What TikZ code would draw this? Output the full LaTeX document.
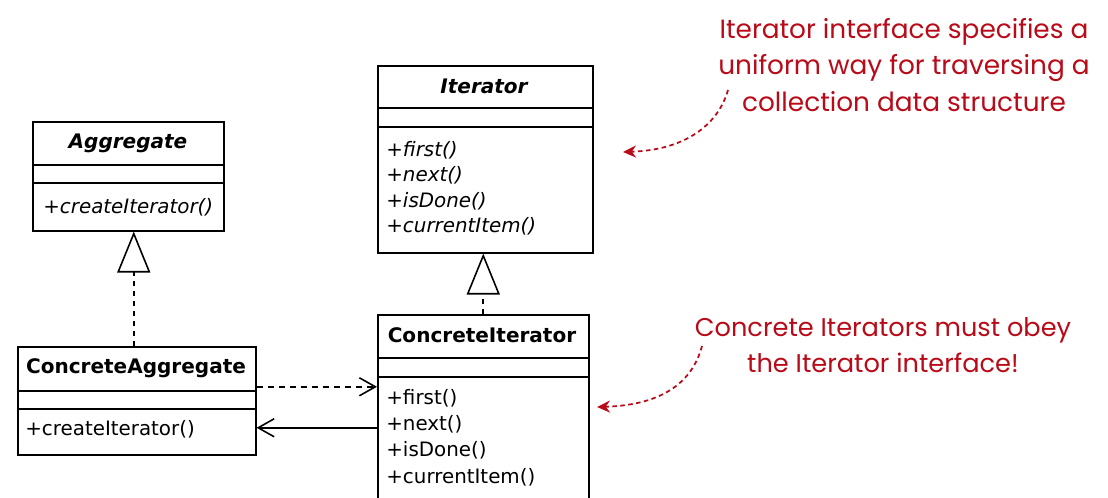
\documentclass[tikz,border=0pt]{standalone}
\usepackage{fontspec}
\setmainfont{DejaVu Sans}
\newfontfamily\notefont{Poppins}
\usetikzlibrary{arrows.meta,calc}

\definecolor{notered}{RGB}{185,10,24}

% class box dividers: name compartment and attribute compartment
\newcommand{\classrules}[3]{%
  \draw[umlline] ($(#1.north west)+(0,#2)$) -- ($(#1.north east)+(0,#2)$);
  \draw[umlline] ($(#1.north west)+(0,#3)$) -- ($(#1.north east)+(0,#3)$);}

\tikzset{
  umlline/.style={line width=0.9pt},
  classbox/.style={draw,umlline,anchor=north west,inner sep=0pt},
  clsname/.style={font=\fontsize{11.4}{13}\selectfont\bfseries,inner sep=0pt},
  absname/.style={clsname,font=\fontsize{11.4}{13}\selectfont\bfseries\itshape},
  op/.style={font=\fontsize{11.3}{13}\selectfont,anchor=west,inner sep=0pt},
  absop/.style={op,font=\fontsize{11.3}{13}\selectfont\itshape},
  realize/.style={umlline,dash pattern=on 0.1cm off 0.1cm,
    -{Triangle[open,length=0.82cm,width=0.66cm,fill=white]}},
  depend/.style={umlline,dash pattern=on 0.12cm off 0.1cm,
    -{Straight Barb[length=0.32cm,width=0.36cm]}},
  assoc/.style={umlline,-{Straight Barb[length=0.32cm,width=0.36cm]}},
  note/.style={text=notered,align=center,inner sep=0pt,
    font=\notefont\fontsize{15}{21}\selectfont},
  noteline/.style={notered,line width=1pt,dash pattern=on 0.09cm off 0.07cm,
    -{Stealth[length=0.26cm,width=0.24cm]}}
}

\begin{document}
\begin{tikzpicture}[x=0.02cm,y=-0.02cm]
\useasboundingbox (0,0) rectangle (1108,497);

% abstract classes
\node[classbox,minimum width=3.82cm,minimum height=2.18cm] (agg) at (32,121) {};
\classrules{agg}{44}{62}
\node[absname] (aggname) at (128,143) {Aggregate};
\node[absop] (aggop) at (43,207) {+createIterator()};

\node[classbox,minimum width=4.30cm,minimum height=3.74cm] (iter) at (377,65) {};
\classrules{iter}{43}{62}
\node[absname] (itername) at (484,86) {Iterator};
\foreach \m [count=\i from 0] in {first,next,isDone,currentItem}
  \node[absop] (iterop\i) at (386,150+25.5*\i) {+\m()};

% concrete classes
\node[classbox,minimum width=4.76cm,minimum height=2.16cm] (conagg) at (17,346) {};
\classrules{conagg}{45}{63}
\node[clsname] (conaggname) at (136,368) {ConcreteAggregate};
\node[op] (conaggop) at (25,429) {+createIterator()};

\node[classbox,minimum width=4.22cm,minimum height=4.0cm] (conit) at (377,314) {};
\classrules{conit}{44}{63}
\node[clsname] (conitname) at (482,335) {ConcreteIterator};
\foreach \m [count=\i from 0] in {first,next,isDone,currentItem}
  \node[op] (conitop\i) at (386,398+26.3*\i) {+\m()};

% relations
\draw[realize] ([xshift=-0.06cm]conagg.north) -- ([xshift=-0.06cm]conagg.north |- agg.south);
\draw[realize] (conit.north) -- (conit.north |- iter.south);
\coordinate (depA) at ([yshift=0.28cm]conagg.east);
\coordinate (asA) at ([yshift=-0.54cm]conagg.east);
\draw[depend] (depA) -- (depA -| conit.west);
\draw[assoc] (asA -| conit.west) -- (asA);

% notes
\node[note] (ifacenote) at (904,65) {Iterator interface specifies a\\uniform way for traversing a\\collection data structure};
\node[note,font=\notefont\fontsize{14.6}{20.5}\selectfont] (concnote) at (883,345) {Concrete Iterators must obey\\the Iterator interface!};
\coordinate (ifacetip) at (623,152);
\coordinate (conctip) at (597,407);
\draw[noteline] ([shift={(-176,25)}]ifacenote.center) .. controls (718,125) and (685,150) .. (ifacetip);
\draw[noteline] ([shift={(-181,1)}]concnote.center) .. controls (693,380) and (665,405) .. (conctip);
\end{tikzpicture}
\end{document}
